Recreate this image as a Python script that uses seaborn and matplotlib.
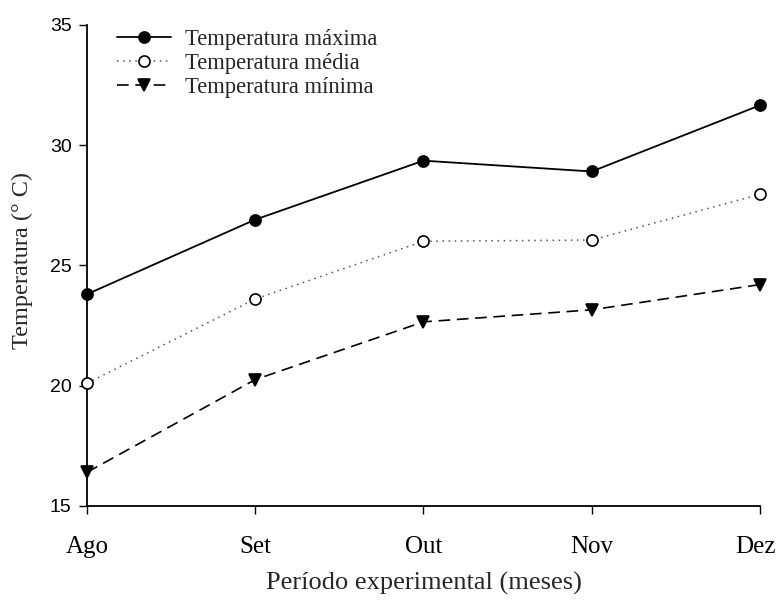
import matplotlib
matplotlib.use("Agg")
import matplotlib.pyplot as plt
import matplotlib.transforms as mtransforms
import seaborn as sns
import pandas as pd

# Monthly air temperature during the experimental period
meses = ["Ago", "Set", "Out", "Nov", "Dez"]
temp_maxima = [23.8, 26.9, 29.35, 28.9, 31.65]
temp_media = [20.1, 23.6, 26.0, 26.05, 27.95]
temp_minima = [16.4, 20.25, 22.65, 23.15, 24.2]

series = {
    "Temperatura máxima": temp_maxima,
    "Temperatura média": temp_media,
    "Temperatura mínima": temp_minima,
}

df = pd.DataFrame(
    [(i, nome, v) for nome, vals in series.items() for i, v in enumerate(vals)],
    columns=["mes", "serie", "temp"],
)

sns.set_theme(style="ticks")
plt.rcParams["font.family"] = ["Liberation Serif", "DejaVu Serif"]

fig = plt.figure(figsize=(7.77, 6.03), dpi=100)
ax = fig.add_axes([0.112, 0.161, 0.866, 0.798])

estilos = {
    "Temperatura máxima": dict(linestyle="-", color="black", marker="o",
                               markerfacecolor="black", markeredgecolor="black", lw=1.3),
    "Temperatura média": dict(linestyle=(0, (1, 3)), color="#555555", marker="o",
                              markerfacecolor="white", markeredgecolor="black", lw=1.1),
    "Temperatura mínima": dict(linestyle=(0, (7, 4)), color="black", marker="v",
                               markerfacecolor="black", markeredgecolor="black", lw=1.2),
}

for nome in series:
    st = estilos[nome]
    sns.lineplot(data=df[df["serie"] == nome], x="mes", y="temp", ax=ax,
                 label=nome, color=st["color"], linestyle=st["linestyle"],
                 marker=st["marker"], markersize=8, linewidth=st["lw"],
                 markerfacecolor=st["markerfacecolor"],
                 markeredgecolor=st["markeredgecolor"], markeredgewidth=1.2,
                 clip_on=False, zorder=3)

ax.set_xlim(0, 4)
ax.set_ylim(15, 35)
ax.set_xticks(range(len(meses)))
ax.set_xticklabels(meses, fontsize=18, family=["Liberation Serif"])
ax.set_yticks([15, 20, 25, 30, 35])
ax.set_yticklabels(["15", "20", "25", "30", "35"], fontsize=14,
                   family=["Liberation Sans"])
ax.tick_params(axis="x", direction="out", length=6, width=1, pad=16, colors="black")
ax.tick_params(axis="y", direction="out", length=6, width=1, pad=5, colors="black")

# nudge the last month label a few pixels left so it stays on the canvas
ultimo = ax.get_xticklabels()[-1]
ultimo.set_transform(ultimo.get_transform()
                     + mtransforms.ScaledTranslation(-4 / 100, 0, fig.dpi_scale_trans))

ax.set_xlabel("Período experimental (meses)", fontsize=19, labelpad=10)
ax.set_ylabel("Temperatura (° C)", fontsize=17.5, labelpad=12)
ax.yaxis.set_label_coords(-0.08, 0.51)

sns.despine(ax=ax)
for s in ("left", "bottom"):
    ax.spines[s].set_linewidth(1.3)
    ax.spines[s].set_color("black")

leg = ax.legend(loc="upper left", frameon=False, fontsize=16.3,
                bbox_to_anchor=(0.015, 1.033), handlelength=2.35,
                handletextpad=0.65, labelspacing=0.12)

fig.savefig("out.png", dpi=100)
